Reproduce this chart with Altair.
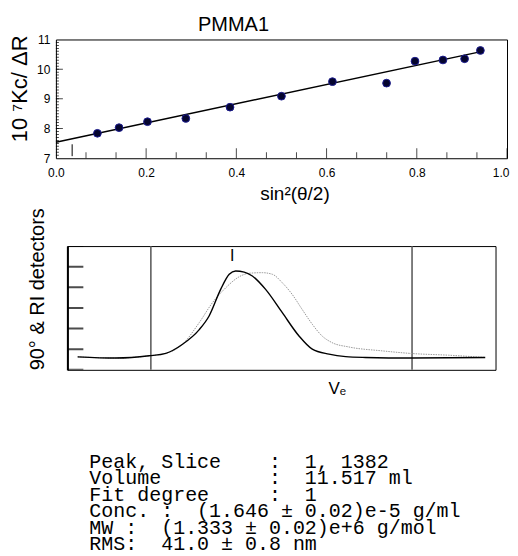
import altair as alt
import pandas as pd

# ---------------- top panel (Zimm-type plot) ----------------
sin2_x = [0.092, 0.140, 0.203, 0.288, 0.386, 0.500, 0.613, 0.733, 0.796, 0.858, 0.906, 0.941]
kc_y = [7.84, 8.03, 8.23, 8.34, 8.72, 9.09, 9.58, 9.53, 10.27, 10.31, 10.35, 10.63]
fit_x = [0.0, 0.945]
fit_y = [7.54, 10.60]
marker_x = [0.036]
marker_y = [7.07]
marker_y2 = [7.47]
x_tick_labels = [0.0, 0.2, 0.4, 0.6, 0.8, 1.0]
y_tick_labels = [7, 8, 9, 10, 11]
x_minor_ticks = [0.0667, 0.1333, 0.2667, 0.3333, 0.4667, 0.5333, 0.6667, 0.7333, 0.8667, 0.9333]
x_major_ticks = [0.2, 0.4, 0.6, 0.8, 1.0]
y_minor_ticks = [round(7 + 0.1 * i, 1) for i in range(1, 40)]
y_major_ticks = [8, 9, 10]

# ---------------- bottom panel (detector traces) ----------------
ve_solid = [2.4, 11.3, 19.1, 23.0, 26.9, 30.8, 33.1, 35.8, 37.8, 39.3, 41.3, 43.2,
            46.3, 50.2, 54.1, 57.2, 61.1, 65.0, 69.6, 80.5, 97.6]
ls_solid = [0.63, 0.57, 0.68, 0.80, 1.24, 1.95, 2.61, 3.90, 4.63, 4.79, 4.74, 4.55,
            3.90, 2.77, 1.64, 1.00, 0.76, 0.64, 0.60, 0.57, 0.60]
ve_dot = [2.4, 11.3, 19.1, 23.0, 26.9, 30.8, 33.9, 37.0, 40.1, 42.4, 45.5, 47.9,
          50.2, 52.5, 54.8, 57.2, 59.5, 61.8, 65.7, 73.5, 80.5, 89.0, 97.6]
ri_dot = [0.63, 0.57, 0.68, 0.80, 1.24, 2.29, 3.26, 3.98, 4.51, 4.68, 4.71, 4.63,
          4.22, 3.66, 2.94, 2.21, 1.64, 1.32, 1.11, 0.92, 0.79, 0.71, 0.60]
limit_lines = [19.5, 80.5]
peak_x = [38.5]
peak_y = [5.5]
left_ticks = [0, 1, 2, 3, 4, 5, 6]

# ---------------- text block ----------------
text_lines = [
    "Peak, Slice    :  1, 1382",
    "Volume         :  11.517 ml",
    "Fit degree     :  1",
    "Conc. :  (1.646 ± 0.02)e-5 g/ml",
    "MW :  (1.333 ± 0.02)e+6 g/mol",
    "RMS:  41.0 ± 0.8 nm",
]
line_index = [0, 1, 2, 3, 4, 5]

FONT = "Liberation Sans"

# ===== top chart =====
xs = alt.Scale(domain=[0, 1], nice=False)
ys = alt.Scale(domain=[7, 11], nice=False)
x_axis = alt.Axis(values=x_tick_labels, format=".1f", ticks=False, domain=False, grid=False,
                  labelPadding=9,
                  labelAlign=alt.condition("datum.value >= 1", alt.value("right"), alt.value("center")),
                  labelOffset=alt.condition("datum.value >= 1", alt.value(2), alt.value(0)),
                  title="sin²(θ/2)", titleFontSize=19, titlePadding=6, titleX=239)
y_axis = alt.Axis(values=y_tick_labels, ticks=False, domain=False, grid=False,
                  labelPadding=6, title="10 ⁷Kc/ ΔR", titleFontSize=22, titlePadding=5,
                  titleY=49)

pts = pd.DataFrame({"x": sin2_x, "y": kc_y})
fit = pd.DataFrame({"x": fit_x, "y": fit_y})
mk = pd.DataFrame({"x": marker_x, "y": marker_y, "y2": marker_y2})
xmin = pd.DataFrame({"x": x_minor_ticks})
xmaj = pd.DataFrame({"x": x_major_ticks})
ymin = pd.DataFrame({"y": y_minor_ticks})
ymaj = pd.DataFrame({"y": y_major_ticks})

fit_line = alt.Chart(fit).mark_line(color="black", strokeWidth=1.5).encode(
    x=alt.X("x:Q", scale=xs, axis=x_axis),
    y=alt.Y("y:Q", scale=ys, axis=y_axis),
)
points = alt.Chart(pts).mark_circle(size=60, color="#05052e", stroke="#1c1c90",
                                    strokeWidth=1, opacity=1).encode(
    x=alt.X("x:Q", scale=xs, axis=x_axis),
    y=alt.Y("y:Q", scale=ys, axis=y_axis),
)
marker = alt.Chart(mk).mark_rule(color="black", strokeWidth=1).encode(
    x=alt.X("x:Q", scale=xs, axis=x_axis),
    y=alt.Y("y:Q", scale=ys, axis=y_axis),
    y2="y2:Q",
)
xt_minor = alt.Chart(xmin).mark_tick(size=12, thickness=1, color="black", clip=True,
                                     orient="vertical").encode(
    x=alt.X("x:Q", scale=xs, axis=x_axis),
    y=alt.YDatum(7, scale=ys, axis=y_axis),
)
xt_major = alt.Chart(xmaj).mark_tick(size=20, thickness=1, color="black", clip=True,
                                     orient="vertical").encode(
    x=alt.X("x:Q", scale=xs, axis=x_axis),
    y=alt.YDatum(7, scale=ys, axis=y_axis),
)
yt_minor = alt.Chart(ymin).mark_tick(size=6, thickness=1, color="black", clip=True,
                                     orient="horizontal").encode(
    y=alt.Y("y:Q", scale=ys, axis=y_axis),
    x=alt.XDatum(0, scale=xs, axis=x_axis),
)
yt_major = alt.Chart(ymaj).mark_tick(size=14, thickness=1, color="black", clip=True,
                                     orient="horizontal").encode(
    y=alt.Y("y:Q", scale=ys, axis=y_axis),
    x=alt.XDatum(0, scale=xs, axis=x_axis),
)

top = alt.layer(xt_minor, xt_major, yt_minor, yt_major, marker, fit_line, points).properties(
    width=452, height=119,
    title=alt.TitleParams("PMMA1", dx=-48, offset=-1, anchor="middle", fontSize=20,
                          fontWeight="normal", font=FONT, color="black"),
)

# ===== bottom chart =====
bxs = alt.Scale(domain=[0, 100], nice=False)
bys = alt.Scale(domain=[0, 6], nice=False)
bx_axis = alt.Axis(labels=False, ticks=False, domain=False, grid=False, title="Vₑ",
                   titleFontSize=17, titlePadding=11, titleX=270)
by_axis = alt.Axis(labels=False, ticks=False, domain=True, domainColor="black", domainWidth=2,
                   grid=False, title="90° & RI detectors", titleFontSize=20,
                   titleAnchor="start", titlePadding=20)

solid = pd.DataFrame({"x": ve_solid, "y": ls_solid})
dotted = pd.DataFrame({"x": ve_dot, "y": ri_dot})
lims = pd.DataFrame({"x": limit_lines})
peak = pd.DataFrame({"x": peak_x, "y": peak_y, "t": ["I"]})
lt = pd.DataFrame({"y": left_ticks})

dot_line = alt.Chart(dotted).mark_line(color="#9a9a9a", strokeWidth=1, strokeDash=[1.5, 1],
                                       interpolate="monotone").encode(
    x=alt.X("x:Q", scale=bxs, axis=bx_axis),
    y=alt.Y("y:Q", scale=bys, axis=by_axis),
)
solid_line = alt.Chart(solid).mark_line(color="black", strokeWidth=1.4,
                                        interpolate="monotone").encode(
    x=alt.X("x:Q", scale=bxs, axis=bx_axis),
    y=alt.Y("y:Q", scale=bys, axis=by_axis),
)
vlines = alt.Chart(lims).mark_rule(color="#555555", strokeWidth=1.5).encode(
    x=alt.X("x:Q", scale=bxs, axis=bx_axis),
)
lticks = alt.Chart(lt).mark_tick(size=32, thickness=2, color="black", clip=True,
                                 orient="horizontal").encode(
    y=alt.Y("y:Q", scale=bys, axis=by_axis),
    x=alt.XDatum(0, scale=bxs, axis=bx_axis),
)
peak_txt = alt.Chart(peak).mark_text(fontSize=16, font=FONT, color="black").encode(
    x=alt.X("x:Q", scale=bxs, axis=bx_axis),
    y=alt.Y("y:Q", scale=bys, axis=by_axis),
    text="t:N",
)

bottom = alt.layer(vlines, lticks, dot_line, solid_line, peak_txt).properties(width=429, height=124)

# ===== text block =====
txt = pd.DataFrame({"i": line_index, "t": [s.replace(" ", "\u00a0") for s in text_lines]})
text_chart = alt.Chart(txt).mark_text(align="left", baseline="middle", font="Liberation Mono",
                                      fontSize=20, color="black").encode(
    x=alt.value(0),
    y=alt.Y("i:Q", scale=alt.Scale(domain=[-0.241, 5.181], reverse=True, nice=False), axis=None),
    text="t:N",
).properties(width=385, height=90, view=alt.ViewBackground(stroke="transparent"))

chart = alt.vconcat(top, bottom, text_chart, spacing=88, center=True, bounds="flush").properties(
    padding={"left": 0, "top": 5, "right": 0, "bottom": 0}
).configure(font=FONT).configure_view(stroke="black", strokeWidth=1).configure_axis(
    labelFont=FONT, labelFontSize=12, labelColor="black", titleFont=FONT,
    titleColor="black", titleFontWeight="normal"
)

chart.save("out.html", embed_options={"renderer": "svg", "actions": False})
